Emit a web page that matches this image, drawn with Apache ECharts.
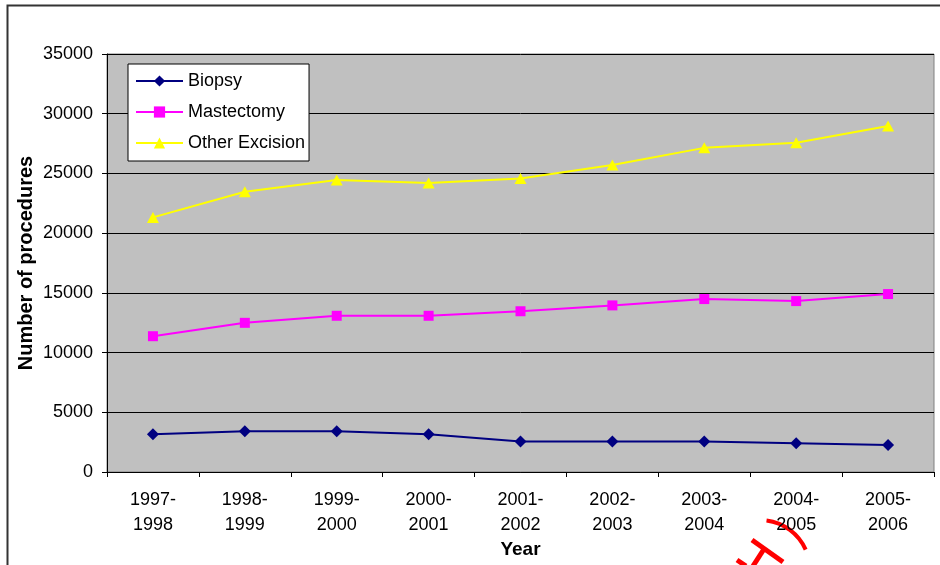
<!DOCTYPE html>
<html>
<head>
<meta charset="utf-8">
<script src="https://cdn.jsdelivr.net/npm/echarts@6/dist/echarts.min.js"></script>
<style>
  html, body { margin: 0; padding: 0; background: #fff; }
  #chart { width: 940px; height: 565px; }
</style>
</head>
<body>
<div id="chart"></div>
<script>
// data
var years = ['1997-\n1998', '1998-\n1999', '1999-\n2000', '2000-\n2001', '2001-\n2002',
             '2002-\n2003', '2003-\n2004', '2004-\n2005', '2005-\n2006'];
var biopsy = [3170, 3420, 3420, 3170, 2550, 2550, 2550, 2410, 2270];
var mastectomy = [11370, 12490, 13080, 13080, 13460, 13950, 14480, 14310, 14900];
var otherExcision = [21320, 23470, 24450, 24200, 24570, 25710, 27140, 27560, 28970];

var font = '"Liberation Sans", Arial, sans-serif';

var chart = echarts.init(document.getElementById('chart'));

var option = {
    animation: false,
    textStyle: { fontFamily: font },
    grid: {
        left: 107,
        top: 54,
        right: 6,
        bottom: 93,
        outerBoundsMode: 'none',
        show: true,
        backgroundColor: '#c0c0c0',
        borderColor: '#808080',
        borderWidth: 1
    },
    legend: {
        left: 128,
        top: 64,
        orient: 'vertical',
        backgroundColor: '#fff',
        borderColor: '#000',
        borderWidth: 1,
        borderRadius: 0,
        padding: [8, 4, 9, 7],
        itemWidth: 47,
        itemHeight: 14,
        itemGap: 13,
        textStyle: { fontFamily: font, fontSize: 18, color: '#000' },
        data: ['Biopsy', 'Mastectomy', 'Other Excision']
    },
    xAxis: {
        type: 'category',
        data: years,
        boundaryGap: true,
        name: 'Year',
        nameLocation: 'middle',
        nameGap: 68,
        nameMoveOverlap: false,
        nameTextStyle: { fontFamily: font, fontSize: 19, fontWeight: 'bold', color: '#000' },
        axisLine: { lineStyle: { color: '#000', width: 1 } },
        axisTick: { show: true, length: 5, lineStyle: { color: '#000' } },
        axisLabel: { fontFamily: font, fontSize: 18, color: '#000', lineHeight: 25, margin: 16 },
        splitLine: { show: false }
    },
    yAxis: {
        type: 'value',
        min: 0,
        max: 35000,
        interval: 5000,
        name: 'Number of procedures',
        nameLocation: 'middle',
        nameGap: 71,
        nameMoveOverlap: false,
        nameTextStyle: { fontFamily: font, fontSize: 20, fontWeight: 'bold', color: '#000' },
        axisLine: { show: true, lineStyle: { color: '#000', width: 1 } },
        axisTick: { show: true, length: 5, lineStyle: { color: '#000' } },
        axisLabel: {
            fontFamily: font, fontSize: 18, color: '#000', margin: 14,
            formatter: function (v) { return String(v); }
        },
        splitLine: { show: true, lineStyle: { color: '#000', width: 1 } }
    },
    series: [
        {
            name: 'Biopsy',
            type: 'line',
            data: biopsy,
            symbol: 'diamond',
            symbolSize: 12,
            color: '#000080',
            lineStyle: { color: '#000080', width: 2 },
            itemStyle: { color: '#000080' }
        },
        {
            name: 'Mastectomy',
            type: 'line',
            data: mastectomy,
            symbol: 'rect',
            symbolSize: 10,
            color: '#ff00ff',
            lineStyle: { color: '#ff00ff', width: 2 },
            itemStyle: { color: '#ff00ff' }
        },
        {
            name: 'Other Excision',
            type: 'line',
            data: otherExcision,
            symbol: 'triangle',
            symbolSize: [12, 11],
            color: '#ffff00',
            lineStyle: { color: '#ffff00', width: 2 },
            itemStyle: { color: '#ffff00' }
        }
    ],
    graphic: [
        // outer frame of the chart
        {
            type: 'rect',
            shape: { x: 7.5, y: 5.5, width: 950, height: 580 },
            style: { fill: null, stroke: '#333', lineWidth: 2 },
            silent: true
        },
        // red stamp fragment at the bottom
        {
            type: 'arc',
            shape: { cx: 760, cy: 570, r: 50, startAngle: -1.44, endAngle: -0.42 },
            style: { fill: null, stroke: '#ff0000', lineWidth: 4 },
            silent: true
        },
        {
            type: 'line',
            shape: { x1: 752, y1: 540, x2: 783, y2: 562 },
            style: { stroke: '#ff0000', lineWidth: 5 },
            silent: true
        },
        {
            type: 'line',
            shape: { x1: 764, y1: 549, x2: 753, y2: 566 },
            style: { stroke: '#ff0000', lineWidth: 5 },
            silent: true
        },
        {
            type: 'line',
            shape: { x1: 737, y1: 560, x2: 746, y2: 566 },
            style: { stroke: '#ff0000', lineWidth: 5 },
            silent: true
        }
    ]
};

chart.setOption(option);
</script>
</body>
</html>
